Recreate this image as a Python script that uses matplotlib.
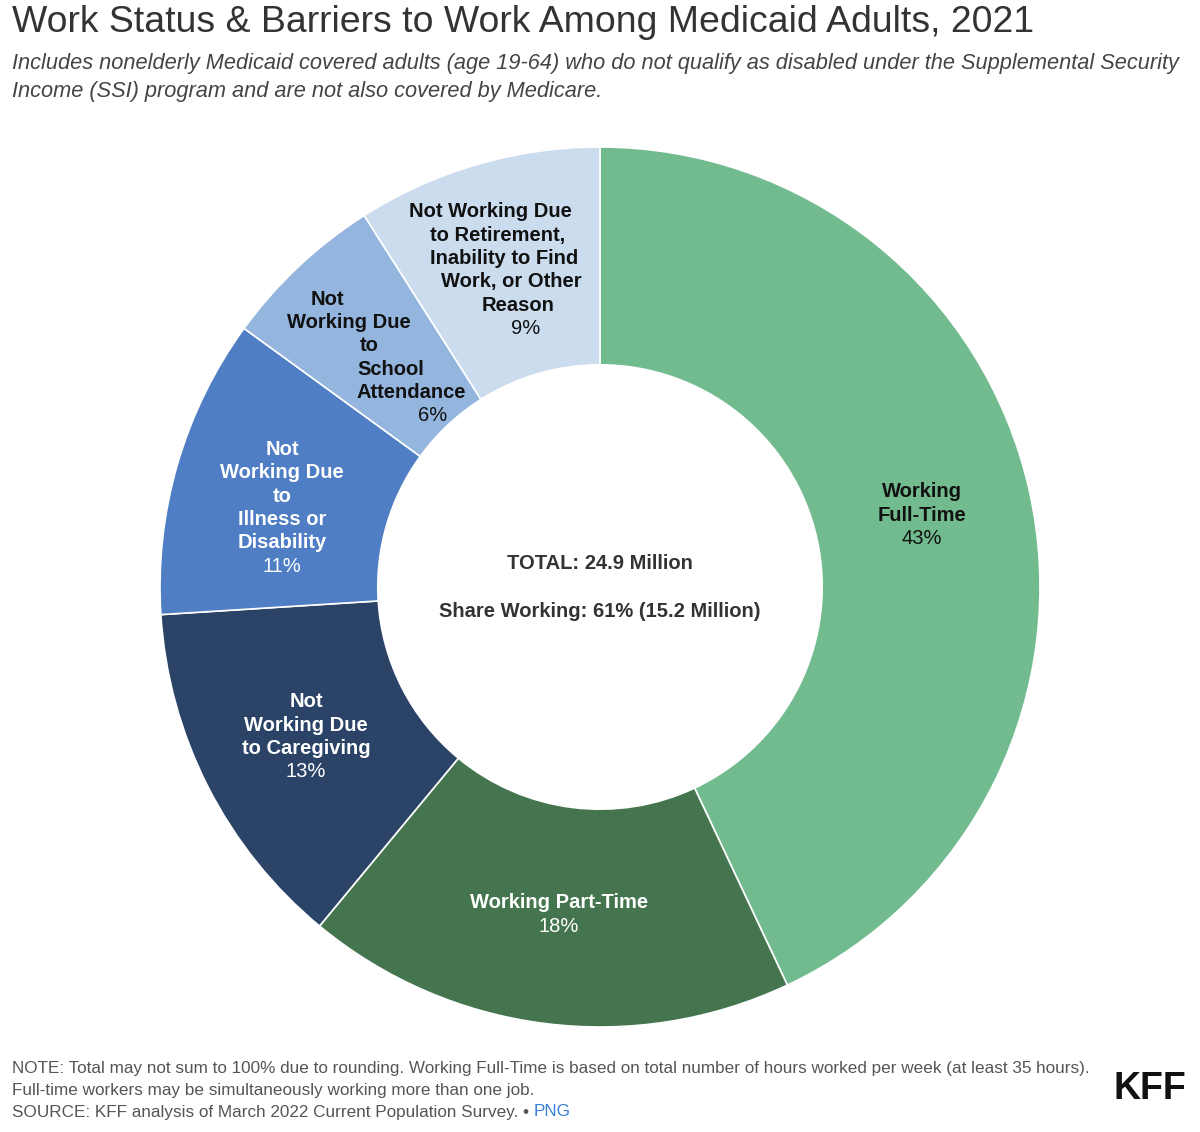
import numpy as np
import matplotlib.pyplot as plt

plt.rcParams['font.family'] = ['Liberation Sans', 'DejaVu Sans']

# data (clockwise from top)
categories = ['Working\nFull-Time',
              'Working Part-Time',
              'Not\nWorking Due\nto Caregiving',
              'Not\nWorking Due\nto\nIllness or\nDisability',
              'Not\nWorking Due\nto\nSchool\nAttendance',
              'Not Working Due\nto Retirement,\nInability to Find\nWork, or Other\nReason']
shares = [43, 18, 13, 11, 6, 9]
colors = ['#71bb8f', '#45754f', '#2b4367', '#4f7ec4', '#94b6de', '#cadcee']
text_colors = ['#111111', 'white', 'white', 'white', '#111111', '#111111']
# horizontal drift of label lines (px per line), mimics the original wrapping
shear = [0, 0, 0, 0, 21, 7]
# extra nudge of a label block (px right, px down)
nudge = [(0, 0), (0, 0), (0, 0), (-1, 13), (6, 11), (0, 0)]

fig = plt.figure(figsize=(12, 11.32), dpi=100)

# donut: centre (600, 587) px, outer radius 440 px
ax = fig.add_axes([160 / 1200, 1 - 1027 / 1132, 880 / 1200, 880 / 1132])
wedges, _ = ax.pie(shares, colors=colors, startangle=90, counterclock=False,
                   radius=1, wedgeprops=dict(width=0.495, edgecolor='white', linewidth=1.2))
ax.set_xlim(-1, 1)
ax.set_ylim(-1, 1)
ax.set_aspect('equal')
ax.axis('off')

# labels at middle of ring, one line at a time
L = 23.3 * 0.72  # line pitch in points
for w, name, s, tc, sh, nd in zip(wedges, categories, shares, text_colors, shear, nudge):
    mid = np.deg2rad((w.theta1 + w.theta2) / 2)
    x, y = 0.75 * np.cos(mid), 0.75 * np.sin(mid)
    lines = name.split('\n') + ['%d%%' % s]
    n = len(lines)
    for i, line in enumerate(lines):
        dx = ((i - (n - 1) / 2) * sh + nd[0]) * 0.72
        dy = ((n - 1) / 2 - i) * L - nd[1] * 0.72
        ax.annotate(line, (x, y), xytext=(dx, dy), textcoords='offset points',
                    ha='center', va='center', fontsize=14.5,
                    fontweight='normal' if i == n - 1 else 'bold', color=tc)

# centre text
ax.text(0, 0.053, 'TOTAL: 24.9 Million', ha='center', va='center',
        fontsize=14.5, fontweight='bold', color='#333333')
ax.text(0, -0.055, 'Share Working: 61% (15.2 Million)', ha='center', va='center',
        fontsize=14.5, fontweight='bold', color='#333333')

# title and subtitle
fig.text(12 / 1200, 1 - 22 / 1132, 'Work Status & Barriers to Work Among Medicaid Adults, 2021',
         ha='left', va='center', fontsize=26.9, color='#333333')
fig.text(12 / 1200, 1 - 64 / 1132,
         'Includes nonelderly Medicaid covered adults (age 19-64) who do not qualify as disabled under the Supplemental Security',
         ha='left', va='center', fontsize=15.7, style='italic', color='#444444')
fig.text(12 / 1200, 1 - 92 / 1132,
         'Income (SSI) program and are not also covered by Medicare.',
         ha='left', va='center', fontsize=15.7, style='italic', color='#444444')

# notes
fig.text(12 / 1200, 1 - 1068 / 1132,
         'NOTE: Total may not sum to 100% due to rounding. Working Full-Time is based on total number of hours worked per week (at least 35 hours).',
         ha='left', va='center', fontsize=12.3, color='#555555')
fig.text(12 / 1200, 1 - 1090 / 1132,
         'Full-time workers may be simultaneously working more than one job.',
         ha='left', va='center', fontsize=12.3, color='#555555')
src = fig.text(12 / 1200, 1 - 1112 / 1132,
               'SOURCE: KFF analysis of March 2022 Current Population Survey. \u2022 ',
               ha='left', va='center', fontsize=12.3, color='#555555')
fig.canvas.draw()
bb = src.get_window_extent()
fig.text(bb.x1 / 1200, 1 - 1112 / 1132, 'PNG', ha='left', va='center',
         fontsize=12.3, color='#3b7dd8')
fig.text(1186 / 1200, 1 - 1089 / 1132, 'KFF', ha='right', va='center',
         fontsize=27, fontweight='bold', color='#111111')

fig.savefig('out.png', dpi=100, facecolor='white')
